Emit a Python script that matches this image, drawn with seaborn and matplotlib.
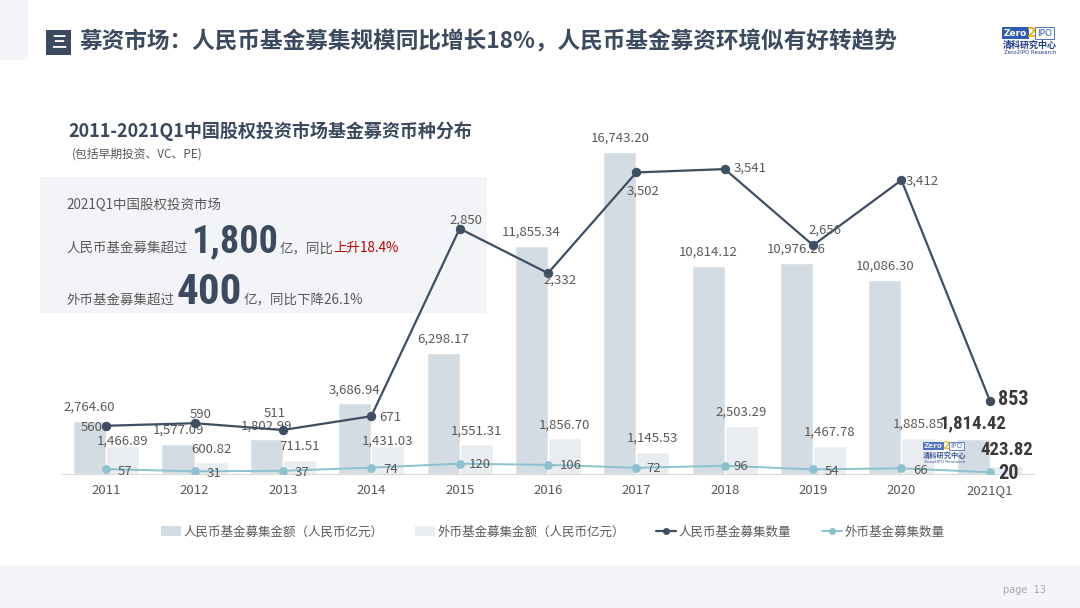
import numpy as np
import pandas as pd
import matplotlib
matplotlib.use('Agg')
import matplotlib.pyplot as plt
import seaborn as sns
from matplotlib import font_manager as fm
from matplotlib.patches import Rectangle, Patch
from matplotlib.lines import Line2D

# Dados
anos = ['2011', '2012', '2013', '2014', '2015', '2016', '2017', '2018', '2019', '2020', '2021Q1']
rmb_valor = [2764.60, 1577.09, 1802.99, 3686.94, 6298.17, 11855.34, 16743.20, 10814.12, 10976.26, 10086.30, 1814.42]
fx_valor = [1466.89, 600.82, 711.51, 1431.03, 1551.31, 1856.70, 1145.53, 2503.29, 1467.78, 1885.85, 423.82]
rmb_num = [560, 590, 511, 671, 2850, 2332, 3502, 3541, 2656, 3412, 853]
fx_num = [57, 31, 37, 74, 120, 106, 72, 96, 54, 66, 20]

serie_rmb = '人民币基金募集金额（人民币亿元）'
serie_fx = '外币基金募集金额（人民币亿元）'
linha_rmb = '人民币基金募集数量'
linha_fx = '外币基金募集数量'

# Cores
c_rmb_bar = '#D3DCE3'
c_fx_bar = '#E9EDF1'
c_rmb_line = '#3E4E63'
c_fx_line = '#8CC2CE'
c_texto = '#595959'
c_escuro = '#3B4A5E'

# deslocamentos dos rótulos (pixels)
off_rmb = [(-15, -2), (6, 9), (-8, 16), (19, -1), (6, 8), (12, -7), (7, -19), (25, 1), (12, 15), (21, -1), (23, 1)]
off_fx = [(19, -2), (19, -2), (19, -2), (19, -2), (20, -1), (23, -1), (17, -1), (16, -1), (19, -2), (19, -2), (19, -1)]
# rótulos de barras de moeda estrangeira rebaixados (índice: offset em pontos)
fx_rebaixados = {0: -1, 3: -1}

sns.set_theme(style='white')
plt.rcParams['font.family'] = ['Noto Sans CJK SC', 'DejaVu Sans']


# Fonte estreita para os números em destaque
def fonte_estreita():
    fontes = fm.fontManager.ttflist
    nomes = {f.name for f in fontes}
    for nome in ['Liberation Sans Narrow', 'Roboto Condensed', 'Open Sans Condensed', 'Noto Sans Condensed',
                 'DejaVu Sans Condensed']:
        if nome in nomes:
            return dict(family=[nome, 'DejaVu Sans']), 1.0
    cond = [f for f in fontes if str(f.stretch) in ('condensed', 'semi-condensed', 'extra-condensed')]
    for pref in ['Roboto', 'DejaVu Sans', 'Noto Sans', 'Open Sans']:
        for f in cond:
            if f.name == pref:
                return dict(family=[pref], stretch=f.stretch), 0.95
    if cond:
        return dict(family=[cond[0].name], stretch=cond[0].stretch), 0.95
    return dict(family=['DejaVu Sans']), 0.72


NARROW, esc = fonte_estreita()

fig = plt.figure(figsize=(10.8, 6.08), dpi=100)

# Fundo (coordenadas em pixels)
bg = fig.add_axes([0, 0, 1, 1])
bg.set_xlim(0, 1080)
bg.set_ylim(608, 0)
bg.axis('off')
bg.add_patch(Rectangle((0, 0), 28, 60, fc='#F3F5F8', ec='none'))
bg.add_patch(Rectangle((0, 565), 1080, 43, fc='#F3F5F8', ec='none'))
bg.add_patch(Rectangle((40, 177), 447, 136, fc='#F2F4F7', ec='none'))

# Título principal
bg.add_patch(Rectangle((46, 30), 25, 25, fc=c_escuro, ec='none'))
bg.text(58.5, 42.5, '三', color='white', fontsize=11, fontweight='bold', ha='center', va='center')
bg.text(80, 42, '募资市场：人民币基金募集规模同比增长18%，人民币基金募资环境似有好转趋势',
        color=c_escuro, fontsize=16.3, fontweight='bold', ha='left', va='center')


def logo(eixo, x, y, s=1.0, alpha=1.0):
    eixo.text(x, y, 'Zero', fontsize=6.5 * s, fontweight='bold', color='white', family=['DejaVu Sans'],
              ha='left', va='center', alpha=alpha,
              bbox=dict(boxstyle='square,pad=0.2', fc='#2F5DB5', ec='none', alpha=alpha))
    eixo.text(x + 28 * s, y, '2', fontsize=10 * s, fontweight='bold', color='#F2B705', family=['DejaVu Sans'],
              ha='center', va='center', alpha=alpha)
    eixo.text(x + 33 * s, y, 'IPO', fontsize=6.5 * s, color='#2F5DB5', family=['DejaVu Sans'],
              ha='left', va='center', alpha=alpha,
              bbox=dict(boxstyle='square,pad=0.2', fc='white', ec='#2F5DB5', lw=0.6, alpha=alpha))
    eixo.text(x + 26 * s, y + 12 * s, '清科研究中心', fontsize=6.5 * s, fontweight='bold', color='#1F3C88',
              ha='center', va='center', alpha=alpha)
    eixo.text(x + 26 * s, y + 20 * s, 'Zero2IPO Research', fontsize=4 * s, color='#1F3C88',
              family=['DejaVu Sans'], ha='center', va='center', alpha=alpha)


logo(bg, 1004, 33)

# Título do gráfico
bg.text(68, 131, '2011-2021Q1中国股权投资市场基金募资币种分布', color=c_escuro, fontsize=13,
        fontweight='bold', ha='left', va='center')
bg.text(72, 154, '(包括早期投资、VC、PE)', color=c_texto, fontsize=8.5, ha='left', va='center')

# Caixa de destaque
bg.text(66, 205, '2021Q1中国股权投资市场', color=c_texto, fontsize=9.7, ha='left', va='center')
t1 = bg.text(66, 252, '人民币基金募集超过', color=c_texto, fontsize=9.7, ha='left', va='baseline')
t2 = bg.annotate('1,800', xy=(1, 252), xycoords=(t1, 'data'), xytext=(4, 0), textcoords='offset pixels',
                 color=c_escuro, fontsize=27.5 * esc, fontweight='bold', va='baseline', **NARROW)
t3 = bg.annotate('亿，同比', xy=(1, 252), xycoords=(t2, 'data'), xytext=(1, 0), textcoords='offset pixels',
                 color=c_texto, fontsize=9.7, va='baseline')
bg.annotate('上升18.4%', xy=(1, 252), xycoords=(t3, 'data'), color='#C00000', fontsize=9.7, va='baseline')
t4 = bg.text(66, 304, '外币基金募集超过', color=c_texto, fontsize=9.7, ha='left', va='baseline')
t5 = bg.annotate('400', xy=(1, 304), xycoords=(t4, 'data'), xytext=(3, 0), textcoords='offset pixels',
                 color=c_escuro, fontsize=31 * esc, fontweight='bold', va='baseline', **NARROW)
bg.annotate('亿，同比下降26.1%', xy=(1, 304), xycoords=(t5, 'data'), xytext=(1, 0), textcoords='offset pixels',
            color=c_texto, fontsize=9.7, va='baseline')

bg.text(1003, 590, 'page  13', color='#A6A6A6', fontsize=7, ha='left', va='center', family=['DejaVu Sans'])

# Gráfico principal
ax = fig.add_axes([62 / 1080, (608 - 474) / 608, 972 / 1080, (474 - 120) / 608])
ax.set_facecolor('none')

df = pd.DataFrame({
    'ano': anos + anos,
    'valor': rmb_valor + fx_valor,
    'serie': [serie_rmb] * len(anos) + [serie_fx] * len(anos),
})
sns.barplot(data=df, x='ano', y='valor', hue='serie', palette=[c_rmb_bar, c_fx_bar],
            width=0.75, saturation=1, legend=False, ax=ax)

ax.set_ylim(0, 18409)
ax.set_xlim(-0.5, len(anos) - 0.5)
ax.set_xlabel('')
ax.set_ylabel('')
ax.set_yticks([])
ax.tick_params(axis='x', length=0, pad=7, labelsize=9.5, labelcolor=c_texto)
for s in ['top', 'right', 'left']:
    ax.spines[s].set_visible(False)
ax.spines['bottom'].set_color('#D9D9D9')
ax.spines['bottom'].set_linewidth(0.8)

# Rótulos das barras
txts_rmb, txts_fx = [
    ax.bar_label(cont, labels=[f'{v:,.2f}' for v in vals], padding=5, fontsize=9.5, color=c_texto)
    for cont, vals in zip(ax.containers, [rmb_valor, fx_valor])
]
for t in (txts_rmb[-1], txts_fx[-1]):
    t.set(fontweight='bold', fontsize=13.5 * esc, color='#3A3A3A', **NARROW)
for i, dy in fx_rebaixados.items():
    txts_fx[i].xyann = (0, dy)

# Linhas (eixo secundário)
ax2 = ax.twinx()
ax2.set_facecolor('none')
pos = np.arange(len(anos))
sns.lineplot(x=pos, y=fx_num, color=c_fx_line, linewidth=1.4, marker='o', markersize=5.5,
             markeredgecolor=c_fx_line, ax=ax2)
sns.lineplot(x=pos, y=rmb_num, color=c_rmb_line, linewidth=1.6, marker='o', markersize=6,
             markeredgecolor=c_rmb_line, ax=ax2)
ax2.set_ylim(0, 4111)
ax2.set_xlim(-0.5, len(anos) - 0.5)
ax2.set_yticks([])
ax2.set_ylabel('')
for s in ax2.spines.values():
    s.set_visible(False)

for valores, offs in [(rmb_num, off_rmb), (fx_num, off_fx)]:
    for i, (v, (dx, dy)) in enumerate(zip(valores, offs)):
        if i == len(anos) - 1:
            ax2.annotate(f'{v:,}', (i, v), xytext=(dx, dy), textcoords='offset pixels',
                         ha='center', va='center', color='#3A3A3A', fontsize=14.5 * esc,
                         fontweight='bold', **NARROW)
        else:
            ax2.annotate(f'{v:,}', (i, v), xytext=(dx, dy), textcoords='offset pixels',
                         ha='center', va='center', color=c_texto, fontsize=9.5)

# Marca d'água
wm = fig.add_axes([0, 0, 1, 1])
wm.set_xlim(0, 1080)
wm.set_ylim(608, 0)
wm.axis('off')
logo(wm, 924, 446, s=0.8, alpha=0.85)

# Legenda
handles = [
    Patch(facecolor=c_rmb_bar, edgecolor='none', label=serie_rmb),
    Patch(facecolor=c_fx_bar, edgecolor='none', label=serie_fx),
    Line2D([0], [0], color=c_rmb_line, lw=1.6, marker='o', markersize=4, label=linha_rmb),
    Line2D([0], [0], color=c_fx_line, lw=1.4, marker='o', markersize=4, label=linha_fx),
]
fig.legend(handles=handles, loc='center', bbox_to_anchor=(553 / 1080, 1 - 532 / 608), ncol=4,
           frameon=False, fontsize=9, labelcolor=c_texto, handlelength=1.6, handleheight=0.8,
           handletextpad=0.2, columnspacing=2.5)

plt.savefig('out.png', dpi=100)
